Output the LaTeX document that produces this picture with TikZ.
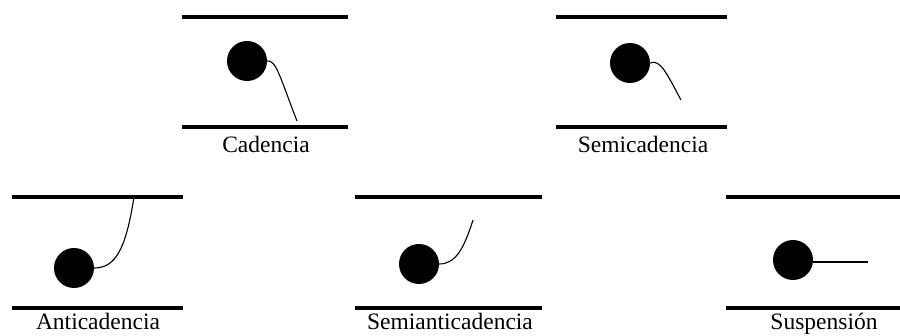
\documentclass[tikz,border=0pt]{standalone}
\usepackage{fontspec}
\setmainfont{Liberation Serif}
\begin{document}
\begin{tikzpicture}[x=1pt,y=-1pt,
  staff/.style={line width=3.6pt},
  ball/.style={circle,fill=black,inner sep=0pt,minimum size=40pt},
  tail/.style={line width=1.1pt},
  lbl/.style={anchor=base,inner sep=0pt,font=\fontsize{23.5}{26}\selectfont}]
\useasboundingbox (0,0) rectangle (900,336);
% Cadencia
\coordinate (t1a) at (182,17); \coordinate (t1b) at (348,17);
\coordinate (b1a) at (182,127); \coordinate (b1b) at (348,127);
\draw[staff] (t1a) -- (t1b); \draw[staff] (b1a) -- (b1b);
\node[ball] (c1) at (247,61) {};
\coordinate (e1) at (297,121);
\draw[tail] (c1.east) .. controls (276,59) and (281,80) .. (e1);
\node[lbl] (l1) at (266,153) {Cadencia};
% Semicadencia
\coordinate (t2a) at (556,17); \coordinate (t2b) at (727,17);
\coordinate (b2a) at (556,127); \coordinate (b2b) at (727,127);
\draw[staff] (t2a) -- (t2b); \draw[staff] (b2a) -- (b2b);
\node[ball] (c2) at (630,63) {};
\coordinate (e2) at (681,100);
\draw[tail] (c2.east) .. controls (660,59) and (666,72) .. (e2);
\node[lbl] (l2) at (643,153) {Semicadencia};
% Anticadencia
\coordinate (t3a) at (12,197); \coordinate (t3b) at (183,197);
\coordinate (b3a) at (12,308); \coordinate (b3b) at (183,308);
\draw[staff] (t3a) -- (t3b); \draw[staff] (b3a) -- (b3b);
\node[ball] (c3) at (74,268) {};
\coordinate (e3) at (134,197);
\draw[tail] (c3.east) .. controls (116,268) and (126,248) .. (e3);
\node[lbl] (l3) at (98,330) {Anticadencia};
% Semianticadencia
\coordinate (t4a) at (355,197); \coordinate (t4b) at (542,197);
\coordinate (b4a) at (355,308); \coordinate (b4b) at (542,308);
\draw[staff] (t4a) -- (t4b); \draw[staff] (b4a) -- (b4b);
\node[ball] (c4) at (419,264) {};
\coordinate (e4) at (473,220);
\draw[tail] (c4.east) .. controls (456,264) and (464,248) .. (e4);
\node[lbl] (l4) at (450,330) {Semianticadencia};
% Suspension
\coordinate (t5a) at (726,197); \coordinate (t5b) at (900,197);
\coordinate (b5a) at (726,308); \coordinate (b5b) at (900,308);
\draw[staff] (t5a) -- (t5b); \draw[staff] (b5a) -- (b5b);
\node[ball] (c5) at (793,260) {};
\coordinate (e5) at (868,262);
\draw[tail] (c5.east |- e5) -- (e5);
\node[lbl] (l5) at (824,330) {Suspensión};
\end{tikzpicture}
\end{document}
